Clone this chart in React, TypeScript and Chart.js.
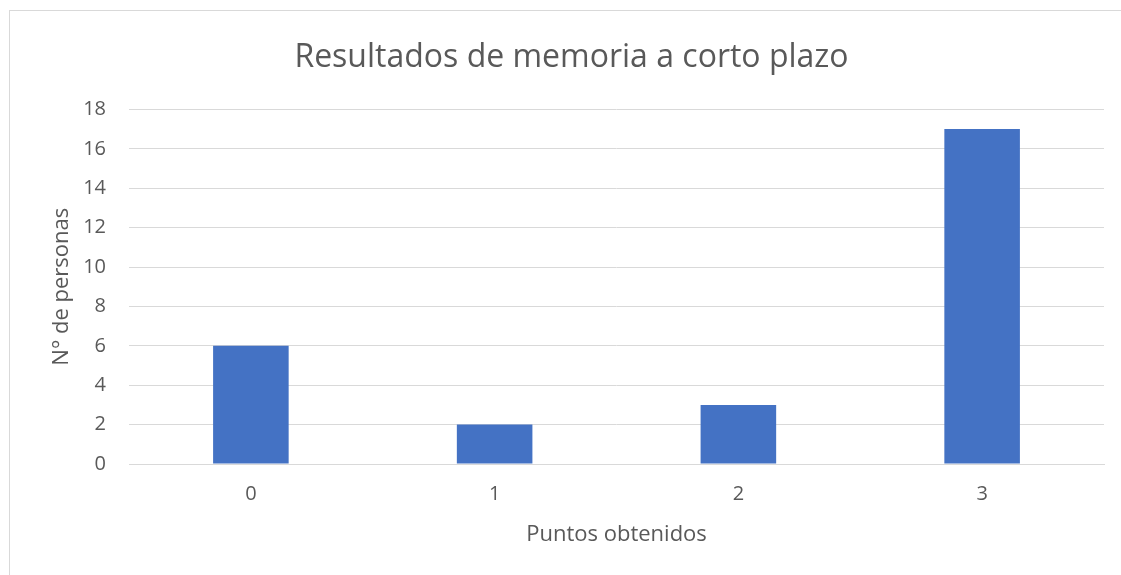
import React, { useEffect, useRef } from "react";
import { Chart, registerables } from "chart.js";

Chart.register(...registerables);

const categories = ["0", "1", "2", "3"];
const personas = [6, 2, 3, 17];
const chartTitle = "Resultados de memoria a corto plazo";
const xTitle = "Puntos obtenidos";
const yTitle = "N° de personas";

const FONT = "'Open Sans', 'Liberation Sans', sans-serif";
const GREY = "#595959";

export default function App() {
  const ref = useRef<HTMLCanvasElement | null>(null);

  useEffect(() => {
    if (!ref.current) return;
    const chart = new Chart(ref.current, {
      type: "bar",
      data: {
        labels: categories,
        datasets: [
          {
            data: personas,
            backgroundColor: "#4472C4",
            borderWidth: 0,
            categoryPercentage: 1,
            barPercentage: 0.31,
          },
        ],
      },
      options: {
        responsive: false,
        animation: false,
        layout: { padding: { top: 0, right: 29, bottom: 0, left: 29 } },
        plugins: {
          legend: { display: false },
          tooltip: { enabled: false },
          title: {
            display: true,
            text: chartTitle,
            color: GREY,
            font: { family: FONT, size: 32, weight: "normal" },
            padding: { top: 28, bottom: 32 },
          },
        },
        scales: {
          x: {
            grid: { display: false, drawTicks: false },
            border: { display: true, color: "#d9d9d9", width: 1 },
            ticks: {
              color: GREY,
              font: { family: FONT, size: 20 },
              padding: 18,
            },
            title: {
              display: true,
              text: xTitle,
              color: GREY,
              font: { family: FONT, size: 22 },
              padding: { top: 0, bottom: 38 },
            },
            afterFit: (s: any) => {
              s.height = 122;
            },
          },
          y: {
            min: 0,
            max: 18,
            ticks: {
              stepSize: 2,
              color: GREY,
              font: { family: FONT, size: 20 },
              padding: 23,
            },
            grid: { color: "#d9d9d9", lineWidth: 1, drawTicks: false },
            border: { display: false },
            title: {
              display: true,
              text: yTitle,
              color: GREY,
              font: { family: FONT, size: 22 },
              padding: { top: 10, bottom: 0 },
            },
            afterFit: (s: any) => {
              s.width = 90;
            },
          },
        },
      },
    });
    return () => chart.destroy();
  }, []);

  return (
    <div
      style={{
        position: "fixed",
        inset: 0,
        overflow: "hidden",
        background: "#fff",
      }}
    >
      <div
        style={{
          position: "absolute",
          left: 9,
          top: 10,
          width: 1123,
          height: 580,
          border: "1px solid #d9d9d9",
          background: "#fff",
        }}
      >
        <canvas ref={ref} width={1123} height={575} style={{ display: "block" }} />
      </div>
    </div>
  );
}
